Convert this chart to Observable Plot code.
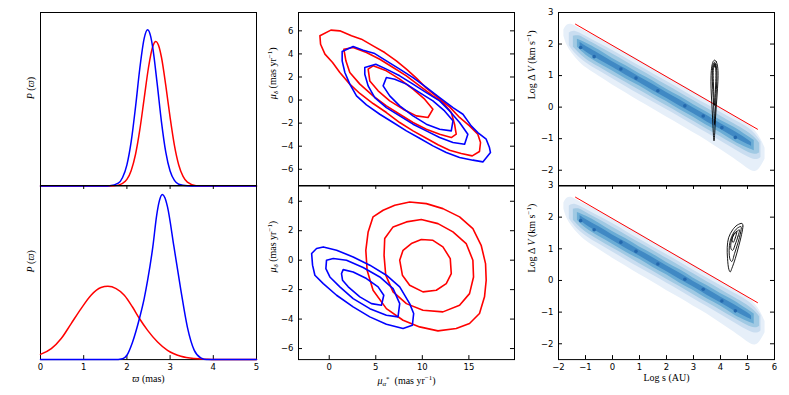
<!DOCTYPE html>
<html><head><meta charset="utf-8">
<script src="https://cdn.jsdelivr.net/npm/d3@7"></script>
<script src="https://cdn.jsdelivr.net/npm/@observablehq/plot@0.6"></script>
<style>
body{margin:0;background:#fff;}
#fig{position:relative;width:789px;height:395px;overflow:hidden;background:#fff;}
#fig svg{position:absolute;overflow:visible;max-width:none;background:transparent;}
</style></head><body><div id="fig"></div>
<script>
// ---------- tick values ----------
const leftXTicks = [0, 1, 2, 3, 4, 5];
const midXTicks = [0, 5, 10, 15];
const midTopYTicks = [-6, -4, -2, 0, 2, 4, 6];
const midBotYTicks = [-6, -4, -2, 0, 2, 4];
const rightXTicks = [-2, -1, 0, 1, 2, 3, 4, 5, 6];
const rightYTicks = [-2, -1, 0, 1, 2, 3];

// ---------- parallax distributions (ϖ, P) ----------
const pTopBlue = [[0,0],[1.5,0],[1.6,0.001],[1.8,0.016],[1.9,0.049],[2.0,0.122],[2.1,0.257],[2.2,0.456],[2.3,0.68],[2.4,0.851],[2.48,0.90],[2.55,0.862],[2.6,0.794],[2.7,0.591],[2.8,0.37],[2.9,0.195],[3.0,0.086],[3.1,0.032],[3.2,0.01],[3.4,0.001],[3.6,0],[5,0]];
const pTopRed = [[0,0],[1.6,0],[1.8,0.005],[1.9,0.015],[2.0,0.038],[2.1,0.09],[2.2,0.183],[2.3,0.326],[2.4,0.505],[2.5,0.683],[2.6,0.805],[2.67,0.833],[2.75,0.797],[2.8,0.742],[2.9,0.58],[3.0,0.395],[3.1,0.234],[3.2,0.121],[3.3,0.055],[3.4,0.022],[3.6,0.002],[3.8,0],[5,0]];
const pBotBlue = [[0,0],[1.7,0],[1.9,0.005],[2.0,0.025],[2.13,0.1],[2.29,0.236],[2.4,0.35],[2.48,0.456],[2.6,0.647],[2.69,0.83],[2.75,0.91],[2.82,0.948],[2.88,0.93],[2.94,0.877],[3.09,0.647],[3.25,0.398],[3.4,0.187],[3.56,0.053],[3.71,0.01],[3.85,0],[5,0]];
const pBotRed = [[0,0.03],[0.25,0.063],[0.48,0.121],[0.71,0.207],[0.94,0.293],[1.17,0.37],[1.4,0.414],[1.56,0.421],[1.75,0.408],[1.94,0.37],[2.13,0.302],[2.29,0.236],[2.48,0.168],[2.71,0.101],[2.94,0.053],[3.25,0.019],[3.56,0.006],[3.87,0.002],[4.2,0],[5,0]];

// ---------- proper-motion contours (μα*, μδ) ----------
const cRed1 = [[-1.0,5.57],[0.18,6.06],[1.14,6.0],[2.39,5.57],[3.46,5.28],[4.71,4.70],[5.96,4.12],[7.21,3.40],[8.29,2.68],[9.36,1.90],[10.43,1.03],[11.68,0.22],[12.93,-0.59],[14.0,-1.51],[15.07,-2.24],[15.96,-2.96],[16.25,-3.68],[16.14,-4.46],[15.36,-4.84],[14.18,-4.64],[12.93,-4.35],[11.68,-3.88],[10.43,-3.31],[9.0,-2.67],[7.57,-1.95],[6.14,-1.08],[4.71,-0.30],[3.29,0.57],[2.21,1.38],[1.14,2.39],[0.36,3.25],[-0.46,3.98],[-0.93,4.84]];
const cRed2 = [[1.57,4.41],[2.57,4.55],[4.0,4.12],[5.43,3.54],[6.86,2.82],[8.29,2.10],[9.71,1.23],[11.14,0.36],[12.21,-0.21],[13.11,-1.08],[13.46,-2.09],[13.64,-2.96],[13.11,-3.25],[11.86,-2.96],[10.43,-2.53],[9.0,-1.95],[7.57,-1.23],[6.14,-0.50],[4.71,0.36],[3.29,1.38],[2.21,2.39],[1.79,3.40]];
const cRed3 = [[4.18,2.68],[4.71,2.97],[6.14,2.53],[7.57,1.81],[9.0,0.94],[10.25,0.08],[11.14,-0.79],[10.61,-1.51],[9.36,-1.37],[7.93,-0.79],[6.5,-0.07],[5.25,0.80],[4.36,1.66]];
const cBlue1 = [[1.39,4.21],[2.57,4.64],[3.64,4.32],[4.89,4.03],[6.14,3.40],[7.57,2.68],[9.0,1.95],[10.43,1.09],[11.86,0.22],[13.29,-0.65],[14.36,-1.23],[15.25,-2.24],[15.96,-2.82],[16.86,-3.39],[17.21,-4.12],[17.32,-4.55],[16.5,-5.36],[15.43,-5.21],[14.0,-4.98],[12.57,-4.55],[11.14,-3.97],[9.71,-3.31],[8.29,-2.67],[6.86,-1.95],[5.43,-1.23],[4.0,-0.42],[2.93,0.36],[2.21,1.38],[1.68,2.39],[1.39,3.40]];
const cBlue2 = [[3.82,2.82],[5.0,3.11],[6.14,2.68],[7.57,2.10],[9.0,1.38],[10.43,0.65],[11.86,-0.07],[12.93,-0.94],[14.0,-1.95],[14.89,-2.96],[14.54,-3.83],[13.29,-3.68],[11.86,-3.25],[10.43,-2.67],[9.0,-2.09],[7.57,-1.37],[6.14,-0.65],[4.89,0.22],[4.18,1.23],[3.82,2.24]];
const cBlue3 = [[5.79,1.23],[6.14,1.95],[7.04,1.81],[8.29,1.38],[9.71,0.65],[11.14,-0.07],[12.39,-0.94],[13.29,-1.80],[13.11,-2.67],[11.86,-2.53],[10.43,-2.09],[9.0,-1.37],[7.57,-0.50],[6.5,0.36]];

const dRed1 = [[4.18,1.92],[4.71,2.94],[5.79,3.39],[7.04,3.73],[8.64,3.95],[10.43,3.84],[12.21,3.50],[14.0,2.94],[15.43,2.14],[16.32,1.01],[16.79,-0.23],[16.86,-1.36],[16.68,-2.49],[16.14,-3.62],[15.07,-4.30],[13.64,-4.64],[11.68,-4.80],[9.71,-4.53],[7.93,-4.08],[6.14,-3.29],[4.71,-2.04],[4.07,-0.68],[3.93,0.67]];
const dRed2 = [[5.96,1.47],[6.86,2.26],[8.29,2.60],[9.89,2.76],[11.68,2.48],[13.29,1.92],[14.71,1.13],[15.43,0.0],[15.5,-1.14],[15.07,-2.27],[14.0,-3.06],[12.21,-3.51],[10.07,-3.40],[8.29,-2.95],[6.86,-2.15],[6.07,-1.02],[5.89,0.33]];
const dRed3 = [[7.57,0.0],[7.93,0.67],[8.82,1.13],[9.89,1.40],[11.14,1.35],[12.21,0.90],[13.0,0.11],[13.11,-0.91],[12.57,-1.59],[11.5,-2.04],[10.07,-2.15],[8.64,-1.70],[7.86,-1.02]];
const dBlue1 = [[-1.89,0.45],[-1.36,0.79],[-0.64,0.90],[0.79,0.67],[2.57,0.22],[4.36,-0.34],[6.14,-1.02],[7.57,-1.81],[8.64,-2.95],[9.07,-3.62],[8.93,-4.42],[7.93,-4.64],[6.14,-4.35],[4.36,-3.85],[2.57,-3.17],[0.79,-2.38],[-0.64,-1.59],[-1.54,-1.02],[-1.79,-0.34]];
const dBlue2 = [[-0.29,0.0],[0.43,0.11],[1.86,0.0],[3.64,-0.50],[5.43,-1.14],[6.86,-1.93],[7.57,-2.95],[7.39,-3.85],[6.14,-3.74],[4.36,-3.29],[2.57,-2.61],[1.14,-1.81],[0.07,-1.14],[-0.36,-0.57]];
const dBlue3 = [[1.32,-0.91],[1.5,-0.64],[2.57,-0.80],[4.0,-1.25],[5.25,-1.81],[5.86,-2.38],[5.61,-3.06],[4.54,-2.95],[3.29,-2.49],[2.04,-1.81],[1.43,-1.36]];

// ---------- Log s vs Log ΔV density (x, low, high) per level ----------
const band1 = [[-1.8,2.25,2.45],[-1.7,1.95,2.62],[-1.5,1.7,2.65],[-1.25,1.45,2.5],[-1.0,1.25,2.4],[-0.5,0.98,2.2],[0,0.7,1.95],[0.5,0.45,1.72],[1,0.18,1.5],[1.5,-0.05,1.22],[2,-0.32,0.98],[2.5,-0.55,0.74],[3,-0.82,0.5],[3.5,-1.05,0.24],[4,-1.35,0.0],[4.5,-1.62,-0.28],[5,-1.95,-0.5],[5.3,-2.1,-0.75],[5.5,-1.9,-1.0],[5.65,-1.65,-1.3]];
const band2 = [[-1.6,1.95,2.35],[-1.4,1.7,2.45],[-1.0,1.4,2.25],[-0.5,1.15,2.03],[0,0.9,1.8],[0.5,0.65,1.55],[1,0.4,1.3],[1.5,0.17,1.06],[2,-0.08,0.82],[2.5,-0.32,0.58],[3,-0.58,0.32],[3.5,-0.82,0.08],[4,-1.07,-0.16],[4.5,-1.33,-0.4],[5,-1.58,-0.62],[5.3,-1.7,-0.85],[5.5,-1.6,-1.1]];
const band3 = [[-1.45,1.9,2.25],[-1.2,1.68,2.28],[-1.0,1.52,2.15],[-0.5,1.27,1.93],[0,1.02,1.68],[0.5,0.78,1.44],[1,0.53,1.19],[1.5,0.29,0.95],[2,0.04,0.7],[2.5,-0.2,0.46],[3,-0.45,0.21],[3.5,-0.7,-0.04],[4,-0.94,-0.28],[4.5,-1.19,-0.53],[5,-1.43,-0.77],[5.3,-1.52,-0.98],[5.45,-1.45,-1.15]];
const band4 = [[-1.3,1.9,2.15],[-1.0,1.64,2.05],[-0.5,1.38,1.82],[0,1.15,1.53],[0.5,0.88,1.33],[1,0.68,1.04],[1.5,0.4,0.85],[2,0.19,0.55],[2.5,-0.1,0.35],[3,-0.3,0.06],[3.5,-0.6,-0.15],[4,-0.79,-0.43],[4.5,-1.1,-0.62],[5,-1.3,-0.92],[5.25,-1.38,-1.06]];
const band5 = [[-1.2,1.9,2.05],[-1.0,1.75,1.93],[-0.5,1.5,1.7],[0,1.27,1.43],[0.5,1.0,1.22],[1,0.78,0.94],[1.5,0.51,0.73],[2,0.29,0.45],[2.5,0.02,0.24],[3,-0.2,-0.04],[3.5,-0.48,-0.26],[4,-0.69,-0.53],[4.5,-0.97,-0.75],[5,-1.18,-1.02],[5.15,-1.24,-1.12]];
const bandSpots = [[-1.18,1.89],[-0.68,1.6],[0.31,1.21],[0.87,0.92],[1.68,0.52],[2.68,0.04],[3.36,-0.28],[4.05,-0.65],[4.55,-0.96]];
const bandColors = ["#e6eff9", "#c9ddf0", "#a0c9e3", "#6aacd5", "#4089c4", "#2468ad"];
const limitLine = [[-1.37, 2.63], [5.37, -0.70]];

// ---------- black contours ----------
const eC1 = [[3.78,1.49],[3.84,1.45],[3.89,1.3],[3.91,1.0],[3.89,0.6],[3.85,0.1],[3.81,-0.4],[3.78,-0.9],[3.76,-1.07],[3.74,-0.9],[3.71,-0.4],[3.68,0.1],[3.65,0.6],[3.65,1.0],[3.68,1.3],[3.73,1.45]];
const eC2 = [[3.78,1.42],[3.83,1.36],[3.86,1.15],[3.86,0.8],[3.83,0.3],[3.80,-0.2],[3.78,-0.55],[3.76,-0.2],[3.73,0.3],[3.70,0.8],[3.70,1.15],[3.73,1.36]];
const eC3 = [[3.78,1.36],[3.81,1.3],[3.83,1.1],[3.82,0.7],[3.79,0.2],[3.77,0.05],[3.76,0.3],[3.74,0.7],[3.73,1.1],[3.75,1.3]];
const eC4 = [[3.78,1.39],[3.8,1.34],[3.79,1.27],[3.77,1.27],[3.76,1.34]];
const fC1 = [[4.8,1.8],[4.83,1.72],[4.78,1.45],[4.68,1.1],[4.55,0.7],[4.42,0.38],[4.36,0.27],[4.31,0.35],[4.26,0.7],[4.25,1.05],[4.3,1.35],[4.45,1.6],[4.62,1.75]];
const fC2 = [[4.76,1.7],[4.74,1.5],[4.65,1.2],[4.52,0.85],[4.42,0.6],[4.36,0.65],[4.32,0.95],[4.36,1.25],[4.48,1.5],[4.62,1.65]];
const fC3 = [[4.7,1.6],[4.65,1.4],[4.55,1.15],[4.45,0.95],[4.39,1.0],[4.4,1.25],[4.5,1.45]];
const fC4 = [[4.6,1.55],[4.55,1.35],[4.47,1.2],[4.43,1.3],[4.5,1.47]];

// ---------- labels ----------
const labP = "P(ϖ)";
const labVarpi = "ϖ (mas)";
const labMuD = "μδ (mas yr−1)";
const labMuA = "μα* (mas yr−1)";
const labDV = "Log ΔV (km s−1)";
const labS = "Log s (AU)";

const SERIF = "Liberation Serif, DejaVu Serif, serif";
const fig = document.getElementById("fig");
const RED = "#ff0000", BLUE = "#0000ff";

const richMap = {
  [labP]: '<tspan font-style="italic">P</tspan> (<tspan font-style="italic">ϖ</tspan>)',
  [labVarpi]: '<tspan font-style="italic">ϖ</tspan> (mas)',
  [labMuD]: '<tspan font-style="italic">μ</tspan><tspan font-style="italic" font-size="7" dy="2">δ</tspan><tspan dy="-2"> (mas yr</tspan><tspan font-size="7" dy="-3.5">−1</tspan><tspan dy="3.5">)</tspan>',
  [labMuA]: '<tspan font-style="italic">μ</tspan><tspan font-style="italic" font-size="7" dy="2">α</tspan><tspan font-size="7" dy="-5">*</tspan><tspan dy="3">  (mas yr</tspan><tspan font-size="7" dy="-3.5">−1</tspan><tspan dy="3.5">)</tspan>',
  [labDV]: 'Log Δ <tspan font-style="italic">V</tspan> (km s<tspan font-size="7" dy="-3.5">−1</tspan><tspan dy="3.5">)</tspan>',
};

function panel(fr, xd, yd, marksFn) {
  const ml = 45, mr = 12, mt = 12, mb = 32;
  const W = fr[1] - fr[0], H = fr[3] - fr[2];
  const svg = Plot.plot({
    width: W + ml + mr, height: H + mt + mb,
    marginLeft: ml, marginRight: mr, marginTop: mt, marginBottom: mb,
    x: {domain: xd, axis: null},
    y: {domain: yd, axis: null},
    style: {fontFamily: "DejaVu Sans", fontSize: "8.5px", background: "transparent", overflow: "visible", color: "black"},
    marks: marksFn(W, H)
  });
  svg.style.left = (fr[0] - ml) + "px";
  svg.style.top = (fr[2] - mt) + "px";
  svg.querySelectorAll("text").forEach(t => {
    const s = t.textContent;
    if (richMap[s]) t.innerHTML = richMap[s];
  });
  fig.appendChild(svg);
}

const tk = {stroke: "black", strokeWidth: 1};
function ticksBottom(v, H) { return Plot.tickX(v, {x: d => d, insetTop: H - 4, ...tk}); }
function ticksTop(v, H) { return Plot.tickX(v, {x: d => d, insetBottom: H - 4, ...tk}); }
function ticksLeft(v, W) { return Plot.tickY(v, {y: d => d, insetRight: W - 4, ...tk}); }
function ticksRight(v, W) { return Plot.tickY(v, {y: d => d, insetLeft: W - 4, ...tk}); }
function xLabels(v) { return Plot.axisX(v, {anchor: "bottom", tickSize: 0, tickPadding: 4, label: null}); }
function yLabels(v) { return Plot.axisY(v, {anchor: "left", tickSize: 0, tickPadding: 5, label: null}); }
function ln(data, color, w, curve) { return Plot.line(data, {x: d => d[0], y: d => d[1], stroke: color, strokeWidth: w, curve: curve}); }
function ylab(s, dx) { return Plot.text([s], {frameAnchor: "left", dx: dx, rotate: -90, fontFamily: SERIF, fontSize: 10}); }
function xlab(s, dy) { return Plot.text([s], {frameAnchor: "bottom", dy: dy, fontFamily: SERIF, fontSize: 10}); }

const colL = [39.5, 255.5], colM = [298.3, 514.3], colR = [557.5, 773.5];
const rowT = [11.7, 185.2], rowB = [185.2, 359.3];

// Left column
panel([...colL, ...rowT], [0, 5], [0, 1], (W, H) => [
  Plot.frame({stroke: "black"}),
  ln(pTopRed, RED, 1.5, "monotone-x"),
  ln(pTopBlue, BLUE, 1.5, "monotone-x"),
  ylab(labP, -10)
]);
panel([...colL, ...rowB], [0, 5], [0, 1], (W, H) => [
  Plot.frame({stroke: "black"}),
  ticksTop(leftXTicks, H), ticksBottom(leftXTicks, H),
  ln(pBotRed, RED, 1.5, "monotone-x"),
  ln(pBotBlue, BLUE, 1.5, "monotone-x"),
  xLabels(leftXTicks),
  ylab(labP, -10),
  xlab(labVarpi, 22)
]);

// Middle column
panel([...colM, ...rowT], [-3.3, 19.9], [-7.45, 7.59], (W, H) => [
  ln(cRed1, RED, 1.6, "linear-closed"), ln(cRed2, RED, 1.6, "linear-closed"), ln(cRed3, RED, 1.6, "linear-closed"),
  ln(cBlue1, BLUE, 1.6, "linear-closed"), ln(cBlue2, BLUE, 1.6, "linear-closed"), ln(cBlue3, BLUE, 1.6, "linear-closed"),
  ticksLeft(midTopYTicks, W), ticksRight(midTopYTicks, W),
  Plot.frame({stroke: "black"}),
  yLabels(midTopYTicks),
  ylab(labMuD, -26)
]);
panel([...colM, ...rowB], [-3.3, 19.9], [-6.75, 5.07], (W, H) => [
  ln(dRed1, RED, 1.6, "linear-closed"), ln(dRed2, RED, 1.6, "linear-closed"), ln(dRed3, RED, 1.6, "linear-closed"),
  ln(dBlue1, BLUE, 1.6, "linear-closed"), ln(dBlue2, BLUE, 1.6, "linear-closed"), ln(dBlue3, BLUE, 1.6, "linear-closed"),
  ticksLeft(midBotYTicks, W), ticksRight(midBotYTicks, W),
  ticksTop(midXTicks, H), ticksBottom(midXTicks, H),
  Plot.frame({stroke: "black"}),
  yLabels(midBotYTicks), xLabels(midXTicks),
  ylab(labMuD, -26),
  xlab(labMuA, 24)
]);

// Right column
function bandMarks() {
  return [band1, band2, band3, band4, band5].map((b, i) =>
    Plot.areaY(b, {x: d => d[0], y1: d => d[1], y2: d => d[2], fill: bandColors[i], curve: "basis"})
  ).concat([Plot.dot(bandSpots, {x: d => d[0], y: d => d[1], r: 1.8, fill: bandColors[5], stroke: null})]);
}
function blk(list) { return list.map(c => ln(c, "black", 0.9, "catmull-rom-closed")); }
panel([...colR, ...rowT], [-2, 6], [-2.5, 3], (W, H) => [
  ...bandMarks(),
  ln(limitLine, RED, 1, "linear"),
  ...blk([eC1, eC2, eC3, eC4]),
  ticksLeft(rightYTicks, W), ticksRight(rightYTicks, W),
  Plot.frame({stroke: "black"}),
  yLabels(rightYTicks),
  ylab(labDV, -27)
]);
panel([...colR, ...rowB], [-2, 6], [-2.5, 3], (W, H) => [
  ...bandMarks(),
  ln(limitLine, RED, 1, "linear"),
  ...blk([fC1, fC2, fC3, fC4]),
  ticksLeft(rightYTicks, W), ticksRight(rightYTicks, W),
  ticksTop(rightXTicks, H), ticksBottom(rightXTicks, H),
  Plot.frame({stroke: "black"}),
  yLabels(rightYTicks), xLabels(rightXTicks),
  ylab(labDV, -27),
  xlab(labS, 21)
]);
</script></body></html>
